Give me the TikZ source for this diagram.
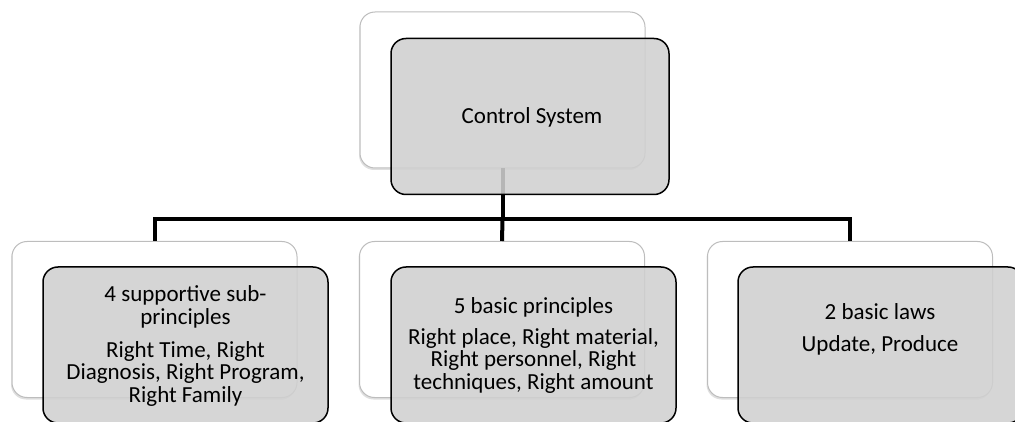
\documentclass[tikz,border=0pt]{standalone}
\usepackage{fontspec}
\setmainfont{Carlito}
\usetikzlibrary{shadows}
\definecolor{boxgray}{HTML}{D0D0D0}
\definecolor{backline}{HTML}{BDBDBD}
\tikzset{
  backbox/.style={draw=backline, line width=1pt, fill=white, rounded corners=15pt,
    minimum width=285pt, minimum height=156pt, inner sep=0pt,
    drop shadow={opacity=0.25, shadow xshift=-1pt, shadow yshift=-2pt}},
  frontbox/.style={draw=black, line width=1.5pt, fill=boxgray, fill opacity=0.88, text opacity=1,
    rounded corners=15pt, minimum width=285pt, minimum height=156pt, inner sep=0pt},
  label/.style={font=\fontsize{23}{22.5}\selectfont, align=center, text=black},
  conn/.style={line width=4pt, draw=black}
}
\begin{document}
\begin{tikzpicture}[x=1pt, y=-1pt]
\clip (0,0) rectangle (1015,422);
\useasboundingbox (0,0) rectangle (1015,422);
% back boxes
\node[backbox] (topback) at (502.5,90) {};
\node[backbox] (lback) at (154.5,319.5) {};
\node[backbox] (mback) at (502,319.5) {};
\node[backbox] (rback) at (850,319.5) {};
% connectors
\draw[conn] (topback.south) -- ++(0,51) coordinate (hub);
\draw[conn] (hub) -| (lback.north);
\draw[conn] (hub) -| (rback.north);
\draw[conn] (hub) -- (mback.north);
% front boxes
\node[frontbox, minimum width=278pt] (topfront) at (530,116.5) {};
\node[frontbox] (lfront) at (185.5,345) {};
\node[frontbox] (mfront) at (533.5,345) {};
\node[frontbox] (rfront) at (880.5,345) {};
% texts
\node[label] (ttext) at (532,117) {Control System};
\node[label] (ltext) at (185.5,346) {4 supportive sub-\\principles\\[10.5pt]Right Time, Right\\Diagnosis, Right Program,\\Right Family};
\node[label] (mtext) at (533.5,345) {5 basic principles\\[8.5pt]Right place, Right material,\\Right personnel, Right\\techniques, Right amount};
\node[label] (rtext) at (880,329) {2 basic laws\\[9.5pt]Update, Produce};
\end{tikzpicture}
\end{document}
